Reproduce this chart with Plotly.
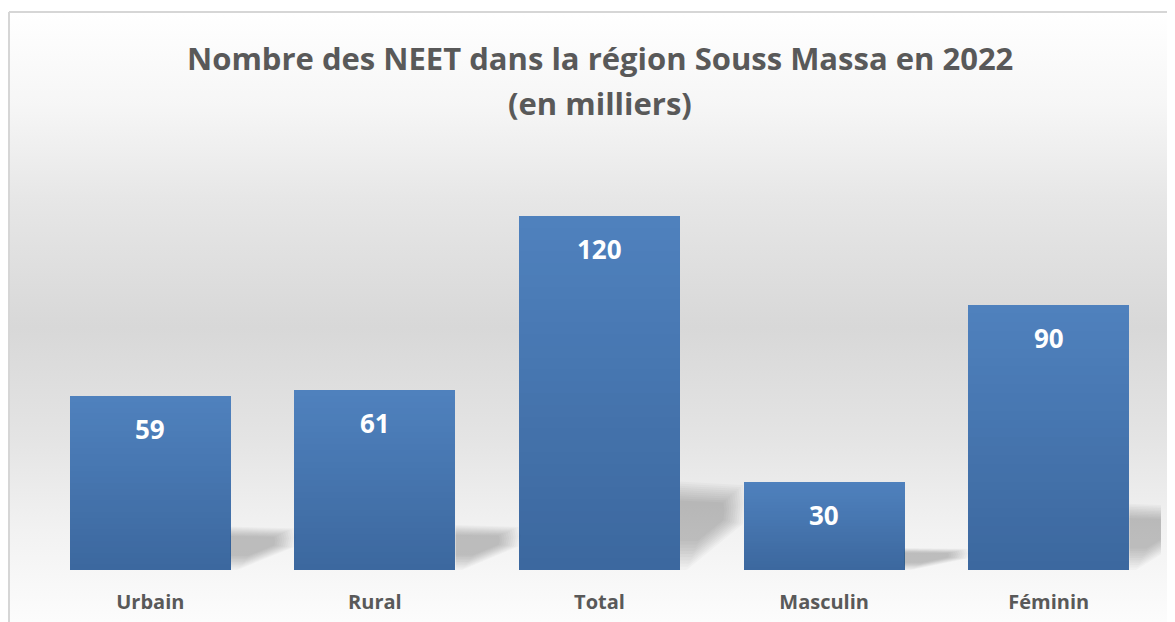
import base64
import plotly.graph_objects as go

# ---------------- data ----------------
categories = ["Urbain", "Rural", "Total", "Masculin", "Féminin"]
values = [59, 61, 120, 30, 90]
title_line1 = "Nombre des NEET dans la région Souss Massa en 2022"
title_line2 = "(en milliers)"

# ---------------- layout constants ----------------
W, H = 1175, 622
ML, MR, MT, MB = 30, 22, 149, 60
PW, PH = W - ML - MR, H - MT - MB
BAR_W = 0.717
GREY = "#595959"
FONT = "Open Sans"

xpos = list(range(len(categories)))

fig = go.Figure()

# ---- soft shadows: stacked shrinking polygons ----
NL = 10
for L in range(NL):
    s = 1 - 0.06 * L
    for i, v in zip(xpos, values):
        xe = i + BAR_W / 2
        px = [xe, xe, xe + 0.28, xe + 0.29, xe + 0.28, xe + 0.03]
        py = [0, 0.25 * v, 0.24 * v, 0.19 * v, 0.13 * v, 0]
        cx = xe + 0.12
        cy = 0.15 * v
        sx = [cx + (p - cx) * s for p in px]
        sy = [cy + (p - cy) * s for p in py]
        # keep left edge attached to the bar
        sx = [max(p, xe) if k in (0, 1) else p for k, p in enumerate(sx)]
        sx[0] = sx[1] = xe
        fig.add_trace(go.Scatter(
            x=sx + [sx[0]], y=sy + [sy[0]], mode="lines", fill="toself",
            line=dict(width=0), fillcolor="rgba(0,0,0,0.024)",
            hoverinfo="skip", showlegend=False))

# ---- bars with vertical gradient (overlayed fractions) ----
N = 30
top_rgb = (0x4F, 0x81, 0xBD)
bot_rgb = (0x3C, 0x68, 0x9F)
for k in range(N):
    f = 1 - k / N
    t = k / (N - 1)
    c = tuple(round(top_rgb[j] + (bot_rgb[j] - top_rgb[j]) * t) for j in range(3))
    fig.add_trace(go.Bar(
        x=xpos, y=[v * f for v in values], width=BAR_W,
        marker=dict(color="rgb(%d,%d,%d)" % c, line=dict(width=0)),
        hoverinfo="skip", showlegend=False))

# ---- data labels ----
for i, v in zip(xpos, values):
    fig.add_annotation(x=i, y=v, text=f"<b>{v}</b>", showarrow=False,
                       yshift=-33, font=dict(family=FONT, size=26, color="white"))

# ---- title ----
fig.add_annotation(xref="paper", yref="paper", x=0.5, y=1 + (MT - 50) / PH,
                   text=f"<b>{title_line1}</b>", showarrow=False, yanchor="middle",
                   font=dict(family=FONT, size=31, color=GREY))
fig.add_annotation(xref="paper", yref="paper", x=0.5, y=1 + (MT - 95) / PH,
                   text=f"<b>{title_line2}</b>", showarrow=False, yanchor="middle",
                   font=dict(family=FONT, size=31, color=GREY))

# ---- background image (gradient + border) ----
svg = f'''<svg xmlns="http://www.w3.org/2000/svg" width="{W}" height="{H}" viewBox="0 0 {W} {H}">
<defs><linearGradient id="g" x1="0" y1="4" x2="0" y2="{H}" gradientUnits="userSpaceOnUse">
<stop offset="0" stop-color="#FFFFFF"/>
<stop offset="0.15" stop-color="#F6F6F6"/>
<stop offset="0.31" stop-color="#E6E6E6"/>
<stop offset="0.51" stop-color="#D8D8D8"/>
<stop offset="0.69" stop-color="#E4E4E4"/>
<stop offset="0.84" stop-color="#F2F2F2"/>
<stop offset="0.97" stop-color="#FBFBFB"/>
<stop offset="1" stop-color="#FDFDFD"/>
</linearGradient></defs>
<rect x="0" y="0" width="{W}" height="{H}" fill="#FFFFFF"/>
<rect x="1" y="4" width="{W - 1}" height="{H - 4}" fill="url(#g)"/>
<line x1="1" y1="4" x2="1" y2="{H}" stroke="#D6D6D6" stroke-width="2"/>
<line x1="1" y1="4" x2="{W}" y2="4" stroke="#D6D6D6" stroke-width="2"/>
</svg>'''
src = "data:image/svg+xml;base64," + base64.b64encode(svg.encode()).decode()
fig.add_layout_image(source=src, xref="paper", yref="paper",
                     x=-ML / PW, y=1 + MT / PH, sizex=W / PW, sizey=H / PH,
                     xanchor="left", yanchor="top", sizing="stretch", layer="below")

fig.update_layout(
    width=W, height=H,
    margin=dict(l=ML, r=MR, t=MT, b=MB, pad=0),
    barmode="overlay", bargap=0,
    paper_bgcolor="white", plot_bgcolor="rgba(0,0,0,0)",
    showlegend=False,
    xaxis=dict(range=[-0.5, len(categories) - 0.5], tickvals=xpos,
               ticktext=[f"<b>{c}</b>" for c in categories],
               showgrid=False, zeroline=False, showline=False, ticks="",
               ticklabelstandoff=18,
               tickfont=dict(family=FONT, size=20, color=GREY), fixedrange=True),
    yaxis=dict(range=[0, 140], visible=False, showgrid=False, zeroline=False, fixedrange=True),
)

fig.write_html("out.html")
